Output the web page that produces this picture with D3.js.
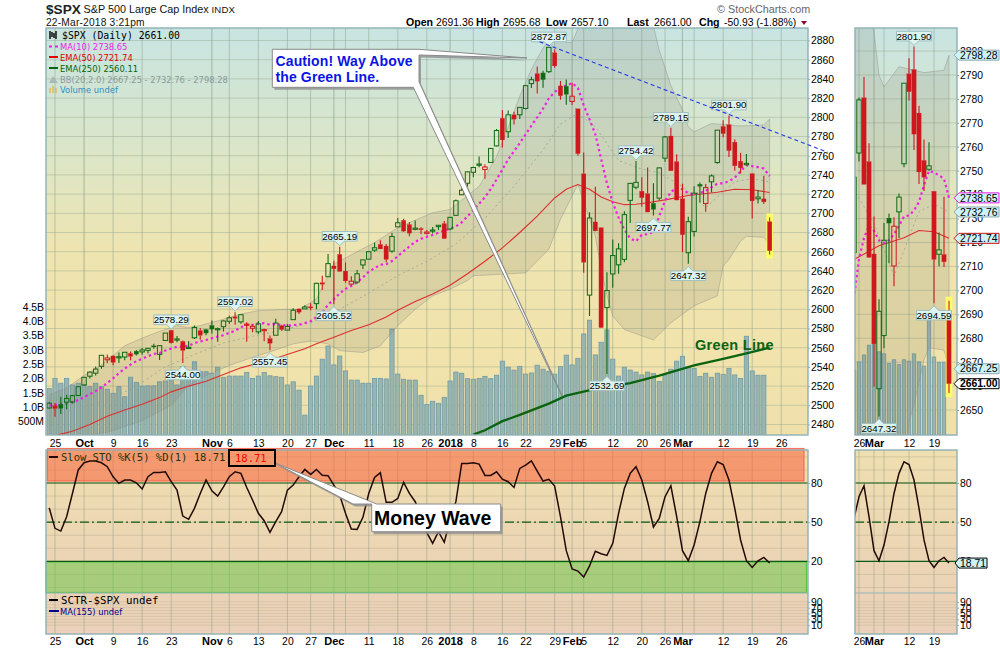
<!DOCTYPE html>
<html>
<head>
<meta charset="utf-8">
<script src="https://cdn.jsdelivr.net/npm/d3@7/dist/d3.min.js"></script>
<style>
  body { margin: 0; background: #fff; }
  svg { display: block; font-family: "Liberation Sans", Arial, sans-serif; }
  .mono { font-family: "DejaVu Sans Mono", monospace; }
  .leg { font-family: "DejaVu Sans", sans-serif; font-size: 8.4px; }
  .axis text { font-size: 10.4px; fill: #000; }
  .axis path { display: none; }
  .axis line { stroke: #8fb0b5; }
</style>
</head>
<body>
<svg id="chart" width="1000" height="650"></svg>
<script>
// daily candles, Sep 22 2017 .. Mar 22 2018 (index = trading day)
const opens = [
  2497.26,2499.39,2501.04,2503.3,2503.41,2510.3,2521.2,2530.3,2533.5,2540.6,
  2547.4,2551.4,2550,2550.3,2554,2556.4,2555.6,2557.2,2562,2553,
  2567.5,2578.1,2568.7,2566.5,2560.1,2570.3,2577.8,2579,2583.2,2579.5,
  2581.9,2587.5,2592.1,2586.9,2584,2580.2,2576.5,2577.8,2569.5,2573,
  2583,2578.3,2589.2,2600.3,2600.4,2602.7,2605.9,2627.8,2633.9,2645.1,
  2657.2,2639.8,2626.2,2628.4,2646.2,2652.2,2661.6,2667.6,2665.9,2660.6,
  2685.9,2692.7,2688.3,2683.3,2684.2,2679.1,2682.1,2686.1,2689.2,2683.7,
  2697.9,2719.3,2731.3,2742.7,2751.2,2745.6,2753,2770.2,2799,2785,
  2802.6,2802.6,2809.2,2835.1,2845.4,2846.2,2847.5,2867.2,2832.7,2832.4,
  2816.5,2808.9,2741.1,2614.8,2691,2685,2601.8,2636.8,2646.3,2652,
  2713.5,2727.1,2723,2720.5,2710.4,2715.8,2757.4,2780.5,2753.8,2715.2,
  2658.9,2681.1,2730.2,2710.2,2732.8,2752.9,2790.5,2792.3,2774.1,2754.3,
  2750.6,2741.4,2715.1,2715,2691.36];
const highs = [
  2503.5,2502.5,2508.9,2511,2511,2519.6,2529.4,2535.1,2540.5,2552.5,
  2553,2551.8,2555,2555.3,2556,2557.6,2559.7,2559.7,2564.2,2562.4,
  2575.3,2578.29,2572.2,2567.6,2567,2583,2580.6,2579.7,2588.4,2581.1,
  2588.4,2593.4,2597.02,2594.4,2586.5,2583.9,2587.7,2579.7,2572.8,2590.1,
  2584,2584.6,2601.2,2600.9,2604.2,2606.4,2627.7,2634.9,2657.7,2650.6,
  2665.19,2648.7,2634.4,2641,2651.7,2660.3,2669.7,2671.9,2668.1,2679.6,
  2695,2694.4,2691,2692.6,2685.4,2682.7,2685.6,2687.7,2692.1,2695.9,
  2714.4,2729.3,2743.5,2748.5,2759.1,2750.8,2767.6,2787.9,2807.5,2807,
  2805.8,2810.3,2833,2842.2,2853,2848.6,2872.87,2870.6,2837.8,2839.3,
  2836,2808.9,2763.4,2701,2727.7,2685.3,2638.7,2672.6,2668.8,2702.1,
  2731.5,2754.42,2737.6,2747.8,2731.3,2747.8,2780.6,2789.15,2761.5,2730.9,
  2696.3,2728.1,2732.1,2730.6,2740.5,2786.6,2797,2801.9,2777.1,2763,
  2761.9,2741.4,2724.2,2739.1,2695.68];
const lows = [
  2496.5,2488,2491,2496,2502,2510,2520.4,2528,2531,2538,
  2543.8,2541.6,2544,2547,2547,2552,2552.7,2554,2559,2547.1,
  2567,2564.5,2565.6,2544,2559,2569,2568.3,2572.9,2574.9,2566.3,
  2576.8,2585,2584,2585,2566.3,2576,2574.5,2566.6,2557.45,2573,
  2577.6,2578.2,2589.2,2595,2600.4,2598.9,2600,2620,2633.9,2605.52,
  2639.4,2627.7,2624.8,2626.5,2642,2652.2,2660,2662.9,2649,2659,
  2685.9,2680.7,2676.1,2682.4,2678.1,2678,2678.9,2682.7,2673.6,2682.4,
  2697.8,2719.1,2727.9,2737.6,2747.9,2736.1,2752.8,2769.6,2768.6,2778.4,
  2792.6,2798.1,2808.1,2830.6,2824.8,2830.9,2846.2,2851.5,2818.3,2813,
  2812.7,2760,2638.2,2593.1,2681.3,2580.6,2532.69,2622.5,2637.1,2648.9,
  2689.8,2725.1,2706.8,2701.3,2697.77,2713.7,2753.8,2744.2,2713.5,2659.7,
  2647.32,2675.8,2711.3,2701.7,2721.9,2751.5,2779.3,2758.7,2744.4,2741.5,
  2750,2694.59,2710.1,2709.8,2657.1];
const closes = [
  2502.22,2496.66,2496.84,2507.04,2510.06,2519.36,2529.12,2534.58,2537.74,2552.07,
  2549.33,2544.73,2550.64,2555.24,2550.93,2553.17,2557.64,2559.36,2561.26,2562.1,
  2575.21,2564.98,2569.13,2557.15,2560.4,2581.07,2572.83,2575.26,2579.36,2579.85,
  2587.84,2591.13,2590.64,2594.38,2584.62,2582.3,2584.84,2578.87,2564.62,2585.64,
  2578.85,2582.14,2599.03,2597.08,2602.42,2601.42,2627.04,2626.07,2647.58,2642.22,
  2639.44,2629.57,2629.27,2636.98,2651.5,2659.99,2664.11,2662.85,2652.01,2675.81,
  2690.16,2681.47,2679.25,2684.57,2683.34,2680.5,2682.62,2687.54,2673.61,2695.81,
  2713.06,2723.99,2743.15,2747.71,2751.29,2748.23,2767.56,2786.24,2776.42,2802.56,
  2798.03,2810.3,2832.97,2839.13,2837.54,2839.25,2872.87,2853.53,2822.43,2823.81,
  2821.98,2762.13,2648.94,2695.14,2681.66,2581,2619.55,2656,2662.94,2698.63,
  2731.2,2732.22,2716.26,2701.33,2703.96,2747.3,2779.6,2744.28,2713.83,2677.67,
  2691.25,2720.94,2728.12,2726.8,2738.97,2786.57,2783.02,2765.31,2749.48,2747.33,
  2752.01,2712.92,2716.94,2711.93,2661];
// volume in billions, the open day has no bar yet
const volumes = [
  1.66,2.01,1.84,2.01,1.78,1.84,1.78,1.72,1.84,1.72,
  1.63,1.49,1.72,1.37,2.05,1.87,1.74,1.75,1.75,1.89,
  1.92,1.95,1.78,2.42,2.24,2.59,2.24,2.24,2.19,2.4,
  2.05,2.09,2.09,2.09,2.22,2.01,2.09,2.22,2.1,2.07,
  2.05,1.78,1.89,1.6,0.73,1.74,2.09,2.68,3.14,2.48,
  2.79,2.27,1.95,1.95,1.84,1.84,2.01,2.01,1.99,3.73,
  2.16,1.98,1.95,1.95,1.42,1.1,1.21,1.14,1.35,1.92,
  2.23,2.19,2,1.98,2.01,2.08,2,2.12,2.61,2.4,
  2.3,2.43,2.16,2.2,2.47,2.33,2.26,2.16,2.42,2.82,
  2.48,2.71,3.56,4.04,2.83,3.27,3.7,2.68,2.09,2.4,
  2.3,2.23,2.13,2.23,2.18,1.9,2.13,2.33,2.61,2.78,
  2.42,2.36,2.08,2.19,2.05,2.19,2.15,2.36,2.13,2.01,
  3.48,2.27,2.12,2.12];
const ma10 = [
  2500,2500.5,2501,2502,2503.5,2505.5,2508.5,2511.5,2514.9,2518.6,
  2523.3,2528.1,2533.5,2538.3,2542.4,2545.8,2548.6,2551.1,2553.5,2554.5,
  2557.1,2559.1,2561,2561.2,2562.1,2564.9,2566.4,2568,2569.8,2571.6,
  2572.9,2575.5,2577.6,2581.4,2583.8,2583.9,2585.1,2585.5,2584,2584.6,
  2583.7,2582.8,2583.6,2583.9,2585.7,2587.6,2591.8,2596.5,2604.8,2610.5,
  2616.6,2621.3,2624.3,2628.3,2633.2,2639.1,2642.8,2646.5,2646.9,2650.3,
  2655.3,2660.5,2665.5,2670.3,2673.5,2675.5,2677.4,2679.8,2682,2684,
  2686.3,2690.5,2696.9,2703.2,2710,2716.8,2725.3,2735.2,2745.5,2756.1,
  2764.6,2773.3,2782.2,2791.4,2800,2809.1,2819.6,2826.4,2831,2833.1,
  2835.5,2830.7,2812.3,2797.9,2782.3,2756.5,2731.1,2711.4,2695.5,2683,
  2673.9,2670.9,2677.6,2678.2,2680.5,2697.1,2713.1,2721.9,2727,2724.9,
  2720.9,2719.8,2721,2723.5,2727,2730.9,2731.3,2733.4,2737,2743.9,
  2750,2749.2,2748.1,2746.6,2738.65];
// [day, value]
const ema50 = [[0,2466],[2,2470],[4,2473],[7,2480],[10,2488.5],[13,2495],[16,2501],[19,2508],[21,2514],[24,2520],
  [27,2525],[30,2532],[33,2539],[36,2544],[39,2549],[42,2555],[44,2559],[46,2564],[49,2571],[52,2578],
  [55,2584],[58,2592],[60,2599],[63,2608],[66,2616],[69,2625],[72,2637],[75,2650],[78,2664],[81,2680],
  [84,2697],[87,2716],[89,2725],[91,2730],[93,2725],[95,2717],[97,2712],[99,2709],[101,2709.5],[103,2711],
  [106,2714],[110,2718.6],[115,2722],[118,2725],[121,2724.5],[124,2721.74]];
const ema250 = [[73,2469.5],[75,2474],[78,2483.5],[81,2490],[83,2494.7],[86,2501.7],[89,2510],[94,2517],
  [100,2523],[105,2531],[111,2541.5],[116,2548.4],[120,2554],[124,2560.11]];
const bbUpper = [[0,2511],[3,2518],[6,2531],[8,2538],[10,2546.6],[13,2562],[16,2570],[19,2577],[22,2583],[24,2581],
  [26,2583],[29,2588],[33,2595],[36,2598.6],[41,2600],[43,2600],[46,2610.6],[49,2647],[53,2660],[56,2669.5],
  [60,2685],[66,2700.6],[69,2704],[74,2728],[77,2759],[79,2790],[81,2822],[83,2850],[85,2872],[86,2880],
  [87,2885],[88,2882],[89,2878],[90,2878],[91,2892],[92,2910],[100,2925],[104,2895],[105,2870],[107,2833],
  [109,2808],[110,2790],[111,2785],[114,2793.5],[115,2793],[119,2791],[123,2792],[124,2798.28]];
const bbMiddle = [[0,2488],[5,2497],[10,2505],[15,2520],[20,2540],[25,2553],[30,2565],[35,2572],[40,2578],[45,2586],
  [50,2600],[55,2617],[60,2635],[65,2650],[70,2668],[75,2695],[80,2728],[85,2766],[88,2793],[91,2804],
  [94,2790],[98,2755],[102,2746],[105,2742],[109,2728],[113,2706],[116,2722],[118,2733],[121,2736],[124,2732.76]];
const bbLower = [[0,2466],[5,2468],[10,2472],[16,2484],[21,2500],[24,2520.7],[27,2531],[31,2541.5],[35,2550],[39,2557.7],
  [42,2564],[45,2567],[48,2564],[50,2557],[54,2555],[57,2562],[60,2583],[63,2600],[66,2614],[69,2621],
  [72,2630],[73,2635],[78,2636.6],[82,2638],[86,2662.6],[88,2693.7],[91,2730],[94,2676],[95,2641.8],[96,2614],
  [97,2593],[99,2579],[104,2568],[107,2586],[111,2603.7],[115,2614],[116,2645],[117,2652],[119,2671],[120,2676],
  [123,2675],[124,2667.25]];
const trendLine = [[84.4,2878.75],[134,2763.5]];
const stoK = [
  61,45.3,43.2,54.2,72,90,95.5,96.8,96.8,95.5,
  92.5,84.8,79.7,82.3,82.3,80.2,75.4,84.8,88.1,88.1,
  88.6,81,74.6,54.7,52.2,60.6,72,82.3,74,70,
  77,84.8,88.6,87.4,76.6,67,56.8,51.1,42.2,50.4,
  58,74.6,78.4,84.8,90.4,86.6,90.4,86,85.6,78.4,
  70.8,56.8,44.8,44.5,53.7,72,84.3,87.9,65.2,65.2,
  68.2,80.5,72,65.7,55,42,33.8,42.7,34.6,51.7,
  65.7,95,95,95.5,94.5,85.8,85.8,88.6,83,81,
  76.6,91.2,93.7,97,89.1,81.5,82.8,77.7,54.2,28.2,
  14.2,12.6,8,16.5,27.7,25.9,24.6,33.8,56.8,75.9,
  87.4,92.5,82.3,65.7,46.3,52.9,69.5,77.9,54.2,28.2,
  20.5,32.5,50.4,72,87.4,96.3,94.2,82.3,60.6,36.4,
  20.5,15.4,20.5,23,18.71];

// date axis
const tickDays = [1,6,11,16,21,28,31,36,41,45,49,55,60,65,69,73,78,82,87,90,92,97,102,106,109,116,121,126];
const tickLabels = ['25','Oct','9','16','23','Nov','6','13','20','27','Dec','11','18','26','2018','8','16','22','29','Feb','5','12','20','26','Mar','12','19','26'];
const boldLabels = ['Oct','Nov','Dec','2018','Feb','Mar'];
const extraGridDays = [51,111];
const zoomTickDays = [106,109,116,121];
const zoomTickLabels = ['26','Mar','12','19'];
const zoomGridDays = [106,109,111,116,121];
// annotated extremes
const peakDays = [21,32,50,86,101,107,117];
const troughDays = [23,38,49,96,104,110];
const zoomPeakDays = [117];
const zoomTroughDays = [110,121];
// axes
const priceTicks = d3.range(2480, 2881, 20);
const zoomPriceTicks = d3.range(2650, 2801, 10);
const volumeTicks = [0.5,1,1.5,2,2.5,3,3.5,4,4.5];
const volumeLabels = ['500M','1.0B','1.5B','2.0B','2.5B','3.0B','3.5B','4.0B','4.5B'];
const stoTicks = [80,50,20];
const sctrTicks = [90,70,50,30,10];

const RED = '#cf181d', GREEN = '#0f6a14';

const svg = d3.select('#chart');
const defs = svg.append('defs');

function gradient(id, stops) {
  const g = defs.append('linearGradient').attr('id', id).attr('x1', 0).attr('x2', 0).attr('y1', 0).attr('y2', 1);
  stops.forEach(s => g.append('stop').attr('offset', s[0]).attr('stop-color', s[1]));
}
gradient('priceBg', [[0,'#c8e4e2'],[0.3,'#dbe6c8'],[0.55,'#eee4b0'],[0.8,'#f1e3ab'],[1,'#efe0ac']]);
gradient('stoBg', [[0,'#efdfb0'],[0.55,'#ecd5b4'],[1,'#ebd1ba']]);

const mainBox = { left: 46, right: 808 };
const zoomBox = { left: 855, right: 957 };
const priceTop = 28, priceBottom = 435, stoTop = 450, sctrTop = 593, stoBottom = 634;

const xMain = d3.scaleLinear().domain([0, 124]).range([49.19, 769.63]);
const xZoom = d3.scaleLinear().domain([105, 124]).range([854, 949]);
const yMain = d3.scaleLinear().domain([2880, 2480]).range([40.5, 424.5]);
const yZoom = d3.scaleLinear().domain([2790, 2650]).range([75, 410]);
const volMain = d3.scaleLinear().domain([0, 4.5]).range([436, 307]);
const volZoom = d3.scaleLinear().domain([0, 4.5]).range([436, 279.4]);
const yHigh = d3.scaleLinear().domain([0, 100]).range([587.5, 456.9]);
const ySctr = d3.scaleLinear().domain([0, 100]).range([628, 599]);

function clip(id, box, y0, y1) {
  defs.append('clipPath').attr('id', id).append('rect')
    .attr('x', box.left).attr('y', y0).attr('width', box.right - box.left).attr('height', y1 - y0);
}
clip('clipMain', mainBox, priceTop, priceBottom);
clip('clipZoom', zoomBox, priceTop, priceBottom);
clip('clipStoMain', mainBox, stoTop, sctrTop);
clip('clipStoZoom', zoomBox, stoTop, sctrTop);

function drawPricePanel(box, x, y, vol, grid, ticks, clipId, peaks, troughs) {
  const g = svg.append('g');
  g.append('rect').attr('x', box.left).attr('y', priceTop).attr('width', box.right - box.left).attr('height', priceBottom - priceTop).attr('fill', 'url(#priceBg)');

  const inner = g.append('g').attr('clip-path', 'url(#' + clipId + ')');
  inner.selectAll('.hgrid').data(ticks).enter().append('line')
    .attr('x1', box.left).attr('x2', box.right).attr('y1', d => y(d)).attr('y2', d => y(d))
    .attr('stroke', '#8e9f8a').attr('stroke-opacity', 0.4);
  const isMonth = d => boldLabels.includes(tickLabels[tickDays.indexOf(d)]);
  inner.selectAll('.vgrid').data(grid).enter().append('line')
    .attr('x1', d => x(d)).attr('x2', d => x(d)).attr('y1', priceTop).attr('y2', priceBottom)
    .attr('stroke', d => isMonth(d) ? '#7f9a80' : '#8e9f8a')
    .attr('stroke-width', d => isMonth(d) ? 1.2 : 1)
    .attr('stroke-opacity', 0.5);

  // volume goes under everything else
  const w = x(1) - x(0);
  inner.selectAll('.vol').data(volumes).enter().append('rect')
    .attr('x', (d, i) => x(i) - w / 2 + 0.8).attr('width', w - 1.6)
    .attr('y', d => vol(d)).attr('height', d => vol(0) - vol(d))
    .attr('fill', '#9ab5ad').attr('stroke', '#6f9ba6').attr('stroke-width', 0.8);

  // Bollinger band
  const pairLine = d3.line().x(d => x(d[0])).y(d => y(d[1]));
  inner.append('path')
    .attr('d', pairLine(bbUpper.concat(bbLower.slice().reverse())) + 'Z')
    .attr('fill', '#77786c').attr('fill-opacity', 0.16)
    .attr('stroke', '#8f9188').attr('stroke-opacity', 0.45);
  inner.append('path').attr('d', pairLine(bbMiddle)).attr('fill', 'none')
    .attr('stroke', '#99a093').attr('stroke-dasharray', '2 3').attr('stroke-opacity', 0.8);

  inner.append('path').attr('d', pairLine(ema250)).attr('fill', 'none')
    .attr('stroke', '#0b6310').attr('stroke-width', 2.3);
  inner.append('path').attr('d', pairLine(ema50)).attr('fill', 'none')
    .attr('stroke', '#dd2f2f').attr('stroke-width', 1.1);
  inner.append('path')
    .attr('d', d3.line().x((d, i) => x(i)).y(d => y(d))(ma10))
    .attr('fill', 'none').attr('stroke', '#f01fe6').attr('stroke-width', 2.2).attr('stroke-dasharray', '2.4 3');

  // open day gets the yellow highlight
  const last = closes.length - 1;
  inner.append('rect').attr('x', x(last) - 3.3).attr('width', 6.6)
    .attr('y', y(highs[last]) - 4).attr('height', y(lows[last]) - y(highs[last]) + 8)
    .attr('fill', '#ffff66');

  const candles = inner.selectAll('.candle').data(closes).enter().append('g');
  const color = (d, i) => (i > 0 && d < closes[i - 1]) ? RED : GREEN;
  const hollow = (d, i) => d > opens[i];
  // wicks stop at the body so hollow candles stay see through
  candles.append('path')
    .attr('d', (d, i) => {
      const xi = x(i), t = y(Math.max(opens[i], d)), b = y(Math.min(opens[i], d));
      return `M${xi},${y(highs[i])}V${t}M${xi},${b}V${y(lows[i])}`;
    })
    .attr('stroke', color).attr('stroke-width', 1.1).attr('fill', 'none');
  candles.append('rect')
    .attr('x', (d, i) => x(i) - 2.2).attr('width', 4.4)
    .attr('y', (d, i) => y(Math.max(opens[i], d)))
    .attr('height', (d, i) => Math.max(1.2, Math.abs(y(opens[i]) - y(d))))
    .attr('fill', (d, i) => hollow(d, i) ? 'none' : color(d, i))
    .attr('stroke', color)
    .attr('stroke-width', (d, i) => hollow(d, i) ? 1 : 0.2);

  const tags = g.append('g');
  peaks.forEach(i => valueTag(tags, x(i), y(highs[i]) - 1, -1, highs[i]));
  troughs.forEach(i => valueTag(tags, x(i), y(lows[i]) + 2.5, 1, lows[i]));

  g.append('rect').attr('x', box.left).attr('y', priceTop).attr('width', box.right - box.left).attr('height', priceBottom - priceTop)
    .attr('fill', 'none').attr('stroke', '#8fb0b5').attr('stroke-width', 1.4);
  return g;
}

// little bubble pointing at a high or a low
function valueTag(g, cx, tipY, dir, value) {
  const hw = 17.5, h = 9.6, a = 4.6;
  const boxY = tipY + dir * a;
  const far = boxY + dir * h;
  g.append('path')
    .attr('d', `M${cx},${tipY}L${cx + 4.6},${boxY}L${cx + hw},${boxY}L${cx + hw},${far}L${cx - hw},${far}L${cx - hw},${boxY}L${cx - 4.6},${boxY}Z`)
    .attr('fill', '#dcf3ee').attr('stroke', '#9fbfc0').attr('stroke-width', 1);
  g.append('text').attr('x', cx).attr('y', (boxY + far) / 2 + 3.4)
    .attr('text-anchor', 'middle').attr('font-size', 9.7)
    .text(d3.format('.2f')(value));
}

// pointed label on the right edge of the zoom panel
function axisTag(g, y, text, stroke, opts) {
  const o = opts || {};
  const x0 = o.x0 || 954, x1 = o.x1 || 999, bx = o.bx || 959;
  g.append('path')
    .attr('d', `M${x0},${y}L${bx},${y - 5}L${x1},${y - 5}L${x1},${y + 5}L${bx},${y + 5}Z`)
    .attr('fill', o.fill || '#cdf3f8').attr('stroke', stroke).attr('stroke-width', 1);
  g.append('text').attr('x', bx + 1).attr('y', y + 3.7).attr('font-size', 10.4)
    .attr('font-weight', o.bold ? 'bold' : 'normal').text(text);
}

function drawAxes() {
  const a = svg.append('g').attr('class', 'axis');
  a.append('g').attr('transform', `translate(${mainBox.right},0)`)
    .call(d3.axisRight(yMain).tickValues(priceTicks).tickSize(2).tickPadding(1).tickFormat(d3.format('d')));
  a.append('g').attr('transform', `translate(${mainBox.left},0)`)
    .call(d3.axisLeft(volMain).tickValues(volumeTicks).tickSize(0).tickPadding(2)
      .tickFormat((d, i) => volumeLabels[i]));
  a.append('g').attr('transform', `translate(${zoomBox.right},0)`)
    .call(d3.axisRight(yZoom).tickValues(zoomPriceTicks).tickSize(2).tickPadding(1).tickFormat(d3.format('d')));

  const bottomAxis = d3.axisBottom(xMain).tickValues(tickDays).tickSize(0).tickPadding(1.5)
    .tickFormat((d, i) => tickLabels[i]);
  const zoomAxis = d3.axisBottom(xZoom).tickValues(zoomTickDays).tickSize(0).tickPadding(1.5)
    .tickFormat((d, i) => zoomTickLabels[i]);
  [438, 636].forEach(ty => {
    a.append('g').attr('transform', `translate(0,${ty})`).call(bottomAxis);
    a.append('g').attr('transform', `translate(0,${ty})`).call(zoomAxis);
  });
  a.selectAll('.tick text').filter(function () { return boldLabels.includes(d3.select(this).text()); })
    .attr('font-weight', 'bold').style('font-size', '11px');

  [mainBox.right, zoomBox.right].forEach(tx => {
    a.append('g').attr('transform', `translate(${tx},0)`)
      .call(d3.axisRight(yHigh).tickValues(stoTicks).tickSize(2).tickPadding(1));
    a.append('g').attr('transform', `translate(${tx},0)`)
      .call(d3.axisRight(ySctr).tickValues(sctrTicks).tickSize(2).tickPadding(1));
  });
}

function drawStoPanel(box, x, grid, clipId, zones) {
  const g = svg.append('g');
  g.append('rect').attr('x', box.left).attr('y', stoTop).attr('width', box.right - box.left).attr('height', stoBottom - stoTop).attr('fill', 'url(#stoBg)');

  g.selectAll('.minor').data(d3.range(0, 101, 10)).enter().append('line')
    .attr('x1', box.left).attr('x2', box.right).attr('y1', d => yHigh(d)).attr('y2', d => yHigh(d))
    .attr('stroke', '#b9ae8c').attr('stroke-opacity', 0.45);
  g.selectAll('.sctr').data(d3.range(10, 100, 10)).enter().append('line')
    .attr('x1', box.left).attr('x2', box.right).attr('y1', d => ySctr(d)).attr('y2', d => ySctr(d))
    .attr('stroke', '#b9ae8c').attr('stroke-opacity', 0.4);
  g.selectAll('.v').data(grid).enter().append('line')
    .attr('x1', d => x(d)).attr('x2', d => x(d)).attr('y1', stoTop).attr('y2', stoBottom)
    .attr('stroke', '#8e9f8a').attr('stroke-opacity', 0.5);

  if (zones) {
    g.append('rect').attr('x', box.left + 1.5).attr('y', 448.5).attr('width', 756.5).attr('height', 32.5)
      .attr('fill', '#f9603a').attr('fill-opacity', 0.55).attr('stroke', '#fb5a45').attr('stroke-opacity', 0.8).attr('stroke-width', 1.2);
    g.append('rect').attr('x', box.left).attr('y', 562).attr('width', 760.5).attr('height', 30.5)
      .attr('fill', '#5cc63c').attr('fill-opacity', 0.48).attr('stroke', '#55c544').attr('stroke-width', 1.2);
  }

  g.selectAll('.lvl').data(stoTicks).enter().append('line')
    .attr('x1', box.left).attr('x2', box.right).attr('y1', d => yHigh(d)).attr('y2', d => yHigh(d))
    .attr('stroke', '#0c5a16').attr('stroke-width', 1.2)
    .attr('stroke-dasharray', d => d === 50 ? '9 3 2 3' : null);

  g.append('path').attr('clip-path', 'url(#' + clipId + ')')
    .attr('d', d3.line().x((d, i) => x(i)).y(d => yHigh(d))(stoK))
    .attr('fill', 'none').attr('stroke', '#230a06').attr('stroke-width', 1.5);

  g.append('line').attr('x1', box.left).attr('x2', box.right).attr('y1', sctrTop).attr('y2', sctrTop).attr('stroke', '#98b5b5').attr('stroke-width', 1.2);
  g.append('rect').attr('x', box.left).attr('y', stoTop).attr('width', box.right - box.left).attr('height', stoBottom - stoTop)
    .attr('fill', 'none').attr('stroke', '#8fb0b5').attr('stroke-width', 1.4);
}

// --- panels
drawPricePanel(mainBox, xMain, yMain, volMain, tickDays.concat(extraGridDays), priceTicks, 'clipMain', peakDays, troughDays);
drawPricePanel(zoomBox, xZoom, yZoom, volZoom, zoomGridDays, zoomPriceTicks, 'clipZoom', zoomPeakDays, zoomTroughDays);
drawStoPanel(mainBox, xMain, tickDays.concat(extraGridDays), 'clipStoMain', true);
drawStoPanel(zoomBox, xZoom, zoomGridDays, 'clipStoZoom', false);
drawAxes();

// blue trend line runs past the panel edge
svg.append('path')
  .attr('d', d3.line().x(d => xMain(d[0])).y(d => yMain(d[1]))(trendLine))
  .attr('fill', 'none').attr('stroke', '#2238ea').attr('stroke-width', 1.1).attr('stroke-dasharray', '4 3');

// --- zoom panel edge labels
const edge = svg.append('g');
axisTag(edge, yZoom(2798.28), '2798.28', '#8fa9ad');
axisTag(edge, yZoom(2738.65), '2738.65', '#f01fe6');
axisTag(edge, yZoom(2732.76), '2732.76', '#8fa9ad');
axisTag(edge, yZoom(2721.74), '2721.74', '#cc1111');
axisTag(edge, yZoom(2667.25), '2667.25', '#8fa9ad');
axisTag(edge, yZoom(2661), '2661.00', '#000', { fill: '#fff', bold: true });
axisTag(edge, yHigh(18.71), '18.71', '#000', { x1: 987, x0: 955 });

// --- header text
const header = svg.append('g');
header.append('text').attr('x', 46).attr('y', 14).attr('font-size', 13.6).attr('font-weight', 'bold').attr('fill', '#222').text('$SPX');
header.append('text').attr('x', 83.5).attr('y', 13).attr('font-size', 10.8).attr('fill', '#111').text('S&P 500 Large Cap Index');
header.append('text').attr('x', 211.5).attr('y', 13).attr('font-size', 9.6).attr('letter-spacing', 0.2).attr('fill', '#111').text('INDX');
header.append('text').attr('x', 46).attr('y', 26).attr('font-size', 10.2).attr('letter-spacing', 0.2).attr('fill', '#111').text('22-Mar-2018 3:21pm');
header.append('text').attr('x', 717).attr('y', 13).attr('font-size', 10.8).attr('fill', '#666').text('© StockCharts.com');

const quoteX = [406, 436, 476, 503, 546, 571, 627, 654, 699, 724];
const quoteText = ['Open', '2691.36', 'High', '2695.68', 'Low', '2657.10', 'Last', '2661.00', 'Chg', '-50.93 (-1.88%)'];
quoteText.forEach((t, i) => {
  header.append('text').attr('x', quoteX[i]).attr('y', 25.5).attr('font-size', i % 2 ? 10.4 : 10.6)
    .attr('font-weight', i % 2 ? 'normal' : 'bold').text(t);
});
header.append('path').attr('d', 'M801,21 L807,21 L804,25 Z').attr('fill', '#8b0a30');

// --- legend inside the price panel
const leg = svg.append('g');
leg.append('path').attr('d', 'M50,31V39M52,32V37M54,33V38M56,31V39').attr('stroke', '#000').attr('stroke-width', 1.4);
leg.append('text').attr('class', 'mono').attr('x', 62).attr('y', 39).attr('font-size', 9.8).text('$SPX (Daily) 2661.00');
leg.append('line').attr('x1', 49).attr('x2', 58).attr('y1', 46.5).attr('y2', 46.5).attr('stroke', '#f01fe6').attr('stroke-width', 2).attr('stroke-dasharray', '3 3');
leg.append('text').attr('class', 'leg').attr('x', 60).attr('y', 50).attr('fill', '#f01fe6').text('MA(10) 2738.65');
leg.append('line').attr('x1', 49).attr('x2', 58).attr('y1', 57).attr('y2', 57).attr('stroke', '#e00000').attr('stroke-width', 2);
leg.append('text').attr('class', 'leg').attr('x', 60).attr('y', 61).attr('fill', '#e00000').text('EMA(50) 2721.74');
leg.append('line').attr('x1', 49).attr('x2', 58).attr('y1', 68).attr('y2', 68).attr('stroke', '#0b6310').attr('stroke-width', 2);
leg.append('text').attr('class', 'leg').attr('x', 60).attr('y', 72).attr('fill', '#0b6310').text('EMA(250) 2560.11');
leg.append('path').attr('d', 'M49,83 L53,76 L58,83 Z').attr('fill', '#a9b9b4');
leg.append('text').attr('class', 'leg').attr('x', 60).attr('y', 83).attr('fill', '#8b9a9c').text('BB(20,2.0) 2667.25 - 2732.76 - 2798.28');
leg.append('path').attr('d', 'M50,93V88M53,93V86M56,93V88').attr('stroke', '#e0b030').attr('stroke-width', 1.2);
leg.append('text').attr('class', 'leg').attr('x', 60).attr('y', 93).attr('fill', '#2f8fc4').text('Volume undef');

leg.append('line').attr('x1', 49).attr('x2', 58).attr('y1', 457).attr('y2', 457).attr('stroke', '#230a06').attr('stroke-width', 2);
leg.append('text').attr('class', 'mono').attr('x', 61).attr('y', 461).attr('font-size', 10.5).attr('fill', '#231').text('Slow STO %K(5) %D(1) 18.71');
leg.append('line').attr('x1', 49).attr('x2', 58).attr('y1', 600).attr('y2', 600).attr('stroke', '#000').attr('stroke-width', 2);
leg.append('text').attr('class', 'mono').attr('x', 61).attr('y', 604).attr('font-size', 10.8).text('SCTR-$SPX undef');
leg.append('line').attr('x1', 49).attr('x2', 59).attr('y1', 611).attr('y2', 611).attr('stroke', '#000090').attr('stroke-width', 2);
leg.append('text').attr('class', 'leg').attr('x', 60).attr('y', 615).attr('fill', '#000090').text('MA(155) undef');

// --- hand drawn call-outs
function callout(d) {
  svg.append('path').attr('d', d).attr('transform', 'translate(2,2.5)').attr('fill', '#8f8f8f').attr('fill-opacity', 0.8);
  svg.append('path').attr('d', d).attr('fill', '#fff').attr('stroke', '#8a8a8a').attr('stroke-width', 1);
}
callout('M272.3,49.3L419,49.3L527,58L419,55L419,81.7L562,396L413.3,87.3L272.3,87.3Z');
svg.append('text').attr('x', 275.5).attr('y', 65.5).attr('font-size', 14).attr('font-weight', 'bold').attr('letter-spacing', 0.12).attr('fill', '#0a14e6').text('Caution! Way Above');
svg.append('text').attr('x', 275.5).attr('y', 81.5).attr('font-size', 14).attr('font-weight', 'bold').attr('letter-spacing', 0.12).attr('fill', '#0a14e6').text('the Green Line.');

callout('M371.7,504L353,504L275,463L376.7,504L500.7,504L500.7,531.7L371.7,531.7Z');
svg.append('text').attr('x', 374).attr('y', 525).attr('font-size', 19.5).attr('font-weight', 'bold').text('Money Wave');

svg.append('rect').attr('x', 229).attr('y', 450).attr('width', 46).attr('height', 16).attr('fill', 'none').attr('stroke', '#000').attr('stroke-width', 2);
svg.append('text').attr('class', 'mono').attr('x', 235).attr('y', 461.5).attr('font-size', 10.5).attr('fill', '#f00').text('18.71');

svg.append('text').attr('x', 695).attr('y', 350).attr('font-size', 14.5).attr('font-weight', 'bold').attr('letter-spacing', 0.3).attr('fill', '#0b6310').text('Green Line');
</script>
</body>
</html>
